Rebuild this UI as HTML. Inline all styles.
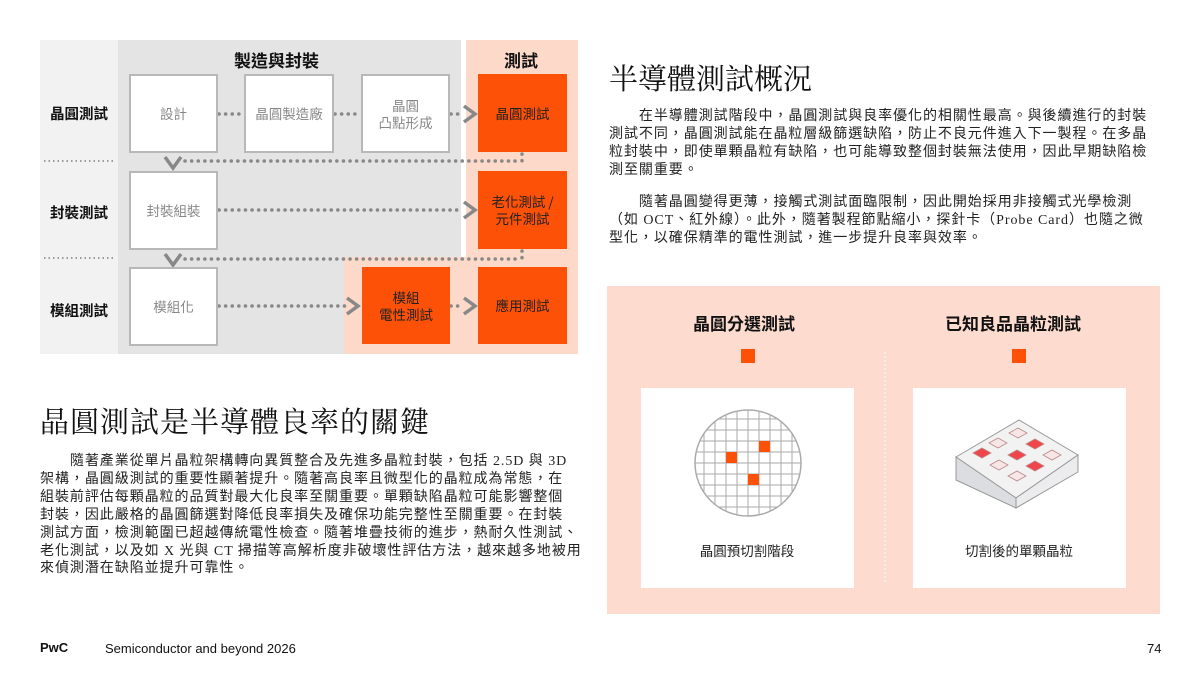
<!DOCTYPE html>
<html><head><meta charset="utf-8"><style>
*{margin:0;padding:0;box-sizing:border-box}
body{width:1200px;height:675px;background:#fff;position:relative;overflow:hidden;font-family:"Liberation Serif","Noto Sans CJK TC",sans-serif;color:#222}
.a{position:absolute}
.box{position:absolute;background:#fff;border:2px solid #b8b8b8;color:#888;font-family:"Noto Sans CJK TC",sans-serif;font-size:13.5px;display:flex;align-items:center;justify-content:center;text-align:center;line-height:17px}
.or{position:absolute;background:#fd5108;color:#222;font-family:"Noto Sans CJK TC",sans-serif;font-size:13.5px;display:flex;align-items:center;justify-content:center;text-align:center;line-height:17px}
.lab{position:absolute;font-family:"Noto Sans CJK TC",sans-serif;font-weight:bold;font-size:14.5px;color:#111}
.p{position:absolute;font-size:14px;line-height:17.9px;white-space:nowrap;letter-spacing:0.95px;font-family:"Liberation Serif","Noto Sans CJK TC",sans-serif;color:#222}
.h{position:absolute;font-family:"Liberation Serif","Noto Serif CJK SC",serif;font-size:29px;color:#111}
</style></head><body>
<div class="a" style="left:40px;top:40px;width:78px;height:314px;background:#f2f2f2"></div>
<div class="a" style="left:118px;top:40px;width:343px;height:314px;background:#e4e4e4"></div>
<div class="a" style="left:466px;top:40px;width:112px;height:314px;background:#fdd9c9"></div>
<div class="a" style="left:344px;top:257px;width:234px;height:97px;background:#fdd9c9"></div>
<div class="lab" style="left:234px;top:47px;font-size:17px">製造與封裝</div>
<div class="lab" style="left:504px;top:47px;font-size:17px">測試</div>
<div class="lab" style="left:50px;top:103px">晶圓測試</div>
<div class="lab" style="left:50px;top:202px">封裝測試</div>
<div class="lab" style="left:50px;top:300px">模組測試</div>
<svg class="a" style="left:0;top:0" width="600" height="360">
<g stroke="#9a9a9a" stroke-width="2" stroke-dasharray="1.5 3" fill="none">
<line x1="44" y1="161" x2="113" y2="161"/><line x1="44" y1="258" x2="113" y2="258"/>
</g>
<g stroke="#888" stroke-width="3.5" stroke-linecap="round" stroke-dasharray="0.1 6.5" fill="none">
<line x1="219" y1="114" x2="244" y2="114"/><line x1="335" y1="114" x2="360" y2="114"/><line x1="451" y1="114" x2="462" y2="114"/>
<line x1="185" y1="161" x2="520" y2="161"/><line x1="522" y1="154" x2="522" y2="161"/>
<line x1="219" y1="210" x2="462" y2="210"/>
<line x1="185" y1="259" x2="520" y2="259"/><line x1="522" y1="251" x2="522" y2="259"/>
<line x1="219" y1="306" x2="345" y2="306"/><line x1="451" y1="306" x2="462" y2="306"/>
</g>
<g stroke="#888" stroke-width="3.5" fill="none">
<polyline points="464,106 475,114 464,122"/><polyline points="464,202 475,210 464,218"/>
<polyline points="347,298 358,306 347,314"/><polyline points="464,298 475,306 464,314"/>
<polyline points="165,157 173,168 181,157"/><polyline points="165,254 173,265 181,254"/>
</g>
</svg>
<div class="box" style="left:129px;top:74px;width:89px;height:79px">設計</div>
<div class="box" style="left:244px;top:74px;width:90px;height:79px">晶圓製造廠</div>
<div class="box" style="left:361px;top:74px;width:89px;height:79px">晶圓<br>凸點形成</div>
<div class="or" style="left:478px;top:74px;width:89px;height:78px">晶圓測試</div>
<div class="box" style="left:129px;top:171px;width:89px;height:79px">封裝組裝</div>
<div class="or" style="left:478px;top:171px;width:89px;height:78px">老化測試 /<br>元件測試</div>
<div class="box" style="left:129px;top:267px;width:89px;height:79px">模組化</div>
<div class="or" style="left:362px;top:267px;width:88px;height:77px">模組<br>電性測試</div>
<div class="or" style="left:478px;top:267px;width:89px;height:77px">應用測試</div>

<div class="h" style="left:40px;top:400px;letter-spacing:1px">晶圓測試是半導體良率的關鍵</div>
<div class="p" style="left:40px;top:453px">　　隨著產業從單片晶粒架構轉向異質整合及先進多晶粒封裝，包括 2.5D 與 3D<br>架構，晶圓級測試的重要性顯著提升。隨著高良率且微型化的晶粒成為常態，在<br>組裝前評估每顆晶粒的品質對最大化良率至關重要。單顆缺陷晶粒可能影響整個<br>封裝，因此嚴格的晶圓篩選對降低良率損失及確保功能完整性至關重要。在封裝<br>測試方面，檢測範圍已超越傳統電性檢查。隨著堆疊技術的進步，熱耐久性測試、<br>老化測試，以及如 X 光與 CT 掃描等高解析度非破壞性評估方法，越來越多地被用<br>來偵測潛在缺陷並提升可靠性。</div>

<div class="h" style="left:609px;top:57px">半導體測試概況</div>
<div class="p" style="left:609px;top:108px">　　在半導體測試階段中，晶圓測試與良率優化的相關性最高。與後續進行的封裝<br>測試不同，晶圓測試能在晶粒層級篩選缺陷，防止不良元件進入下一製程。在多晶<br>粒封裝中，即使單顆晶粒有缺陷，也可能導致整個封裝無法使用，因此早期缺陷檢<br>測至關重要。</div>
<div class="p" style="left:609px;top:194px">　　隨著晶圓變得更薄，接觸式測試面臨限制，因此開始採用非接觸式光學檢測<br>（如 OCT、紅外線）。此外，隨著製程節點縮小，探針卡（Probe Card）也隨之微<br>型化，以確保精準的電性測試，進一步提升良率與效率。</div>

<div class="a" style="left:607px;top:286px;width:553px;height:328px;background:#fddccf"></div>
<div class="lab" style="left:693px;top:310px;font-size:17px">晶圓分選測試</div>
<div class="lab" style="left:945px;top:310px;font-size:17px">已知良品晶粒測試</div>
<div class="a" style="left:741px;top:349px;width:14px;height:14px;background:#fd5108"></div>
<div class="a" style="left:1012px;top:349px;width:14px;height:14px;background:#fd5108"></div>
<div class="a" style="left:884px;top:352px;width:0;height:230px;border-left:2px dotted #eee"></div>
<div class="a" style="left:641px;top:388px;width:213px;height:200px;background:#fff"></div>
<div class="a" style="left:913px;top:388px;width:213px;height:200px;background:#fff"></div>
<svg class="a" style="left:641px;top:388px" width="213" height="200">
<defs><clipPath id="c"><circle cx="107" cy="75" r="53"/></clipPath></defs>
<g clip-path="url(#c)" stroke="#aaa" stroke-width="1">
<line x1="63" y1="0" x2="63" y2="140"/><line x1="74" y1="0" x2="74" y2="140"/><line x1="85" y1="0" x2="85" y2="140"/><line x1="96" y1="0" x2="96" y2="140"/><line x1="107" y1="0" x2="107" y2="140"/><line x1="118" y1="0" x2="118" y2="140"/><line x1="129" y1="0" x2="129" y2="140"/><line x1="140" y1="0" x2="140" y2="140"/><line x1="151" y1="0" x2="151" y2="140"/>
<line x1="50" y1="31" x2="170" y2="31"/><line x1="50" y1="42" x2="170" y2="42"/><line x1="50" y1="53" x2="170" y2="53"/><line x1="50" y1="64" x2="170" y2="64"/><line x1="50" y1="75" x2="170" y2="75"/><line x1="50" y1="86" x2="170" y2="86"/><line x1="50" y1="97" x2="170" y2="97"/><line x1="50" y1="108" x2="170" y2="108"/><line x1="50" y1="119" x2="170" y2="119"/>
</g>
<circle cx="107" cy="75" r="53" fill="none" stroke="#aaa" stroke-width="1.5"/>
<rect x="85" y="64" width="11" height="11" fill="#fd5108"/><rect x="118" y="53" width="11" height="11" fill="#fd5108"/><rect x="107" y="86" width="11" height="11" fill="#fd5108"/>
<text x="106" y="168" font-family="Noto Sans CJK TC,sans-serif" font-size="13.5" text-anchor="middle" fill="#222">晶圓預切割階段</text>
</svg>
<svg class="a" style="left:913px;top:388px" width="213" height="200">
<polygon points="43,69 106,32 165,67 103,110" fill="#f2f2f2" stroke="#999"/>
<polygon points="43,69 103,110 103,120 43,92" fill="#dcdde0" stroke="#999"/>
<polygon points="103,110 165,67 165,84 103,120" fill="#ececee" stroke="#999"/>
<g stroke="#b88" stroke-width="0.8">
<g fill="#f7e6e6">
<polygon points="96,45 105,40 114,45 105,50"/><polygon points="76,55 85,50 94,55 85,60"/><polygon points="130,67 139,62 148,67 139,72"/><polygon points="77,77 86,72 95,77 86,82"/><polygon points="95,88 104,83 113,88 104,93"/>
</g>
<g fill="#f0464a">
<polygon points="113,56 122,51 131,56 122,61"/><polygon points="60,65 69,60 78,65 69,70"/><polygon points="95,67 104,62 113,67 104,72"/><polygon points="113,78 122,73 131,78 122,83"/>
</g>
</g>
<text x="106" y="168" font-family="Noto Sans CJK TC,sans-serif" font-size="13.5" text-anchor="middle" fill="#222">切割後的單顆晶粒</text>
</svg>

<div class="a" style="left:40px;top:640px;font-family:'Liberation Sans',sans-serif;font-weight:bold;font-size:13px;color:#111">PwC</div>
<div class="a" style="left:105px;top:641px;font-family:'Liberation Sans',sans-serif;font-size:13px;color:#111">Semiconductor and beyond 2026</div>
<div class="a" style="left:1147px;top:641px;font-family:'Liberation Sans',sans-serif;font-size:13px;color:#111">74</div>
</body></html>
